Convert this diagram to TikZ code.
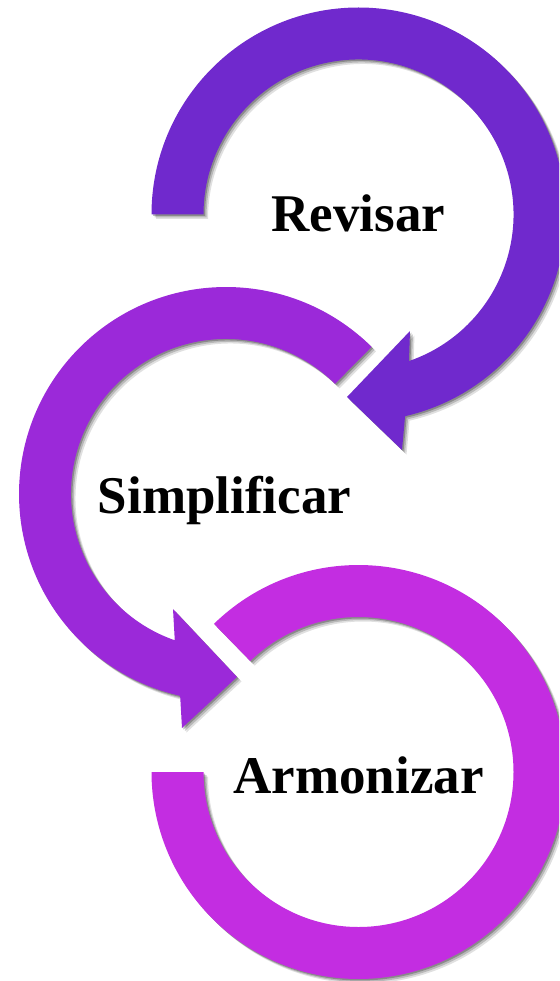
\documentclass[tikz,border=0pt]{standalone}
\usepackage{fontspec}
\setmainfont{Liberation Serif}
\usetikzlibrary{calc,shadows}
\definecolor{arrowA}{RGB}{112,41,205}
\definecolor{arrowB}{RGB}{155,41,217}
\definecolor{arrowC}{RGB}{195,45,225}
\tikzset{
  ring/.style={draw=none,
    drop shadow={shadow xshift=4.5pt, shadow yshift=-4.5pt, opacity=0.12, fill=black},
    drop shadow={shadow xshift=3pt, shadow yshift=-3pt, opacity=0.18, fill=black},
    drop shadow={shadow xshift=1.5pt, shadow yshift=-1.5pt, opacity=0.25, fill=black}},
  steplabel/.style={font=\bfseries\fontsize{53}{60}\selectfont, inner sep=0pt, anchor=base, text=black}
}
\begin{document}
\begin{tikzpicture}[x=1pt,y=-1pt]
\useasboundingbox (0,0) rectangle (559,981);
\clip (0,0) rectangle (559,981);
\coordinate (c1) at (358.5,214.5);
\coordinate (c2) at (226,494);
\coordinate (c3) at (358.5,772);
% bottom ring (Armonizar)
\fill[ring, fill=arrowC] ($(c3)+(-134.3:207)$) arc[start angle=-134.3, end angle=180, radius=207]
  -- ($(c3)+(180:155)$) arc[start angle=180, end angle=-134.3, radius=155] -- cycle;
% middle arrow (Simplificar)
\fill[ring, fill=arrowB] ($(c2)+(-45.3:207)$) arc[start angle=-45.3, end angle=-257.2, radius=207]
  -- (182,728) -- (237,677) -- (173,609)
  -- ($(c2)+(-250.7:155)$) arc[start angle=-250.7, end angle=-45.3, radius=155] -- cycle;
% top arrow (Revisar)
\fill[ring, fill=arrowA] ($(c1)+(180:207)$) arc[start angle=180, end angle=437, radius=207]
  -- (402,450) -- (347,397) -- (410,331)
  -- ($(c1)+(71:155)$) arc[start angle=71, end angle=-180, radius=155] -- cycle;
\node[steplabel] (revisar) at (358.5,232) {Revisar};
\node[steplabel] (simplificar) at (224.5,513) {Simplificar};
\node[steplabel] (armonizar) at (358.5,793) {Armonizar};
\end{tikzpicture}
\end{document}
